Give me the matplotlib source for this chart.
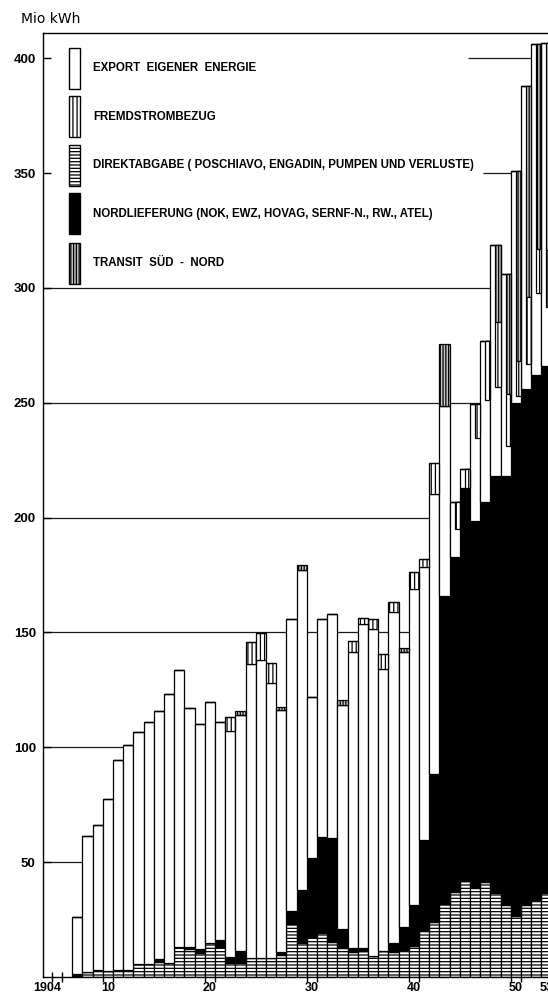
import numpy as np
import matplotlib.pyplot as plt
from matplotlib.patches import Rectangle

plt.rcParams['font.family'] = ['Liberation Sans', 'DejaVu Sans']
plt.rcParams['hatch.linewidth'] = 0.9

# Jahreswerte in Mio kWh
years = list(range(1907, 1954))
direkt = [0.5, 2, 3, 2.5, 3, 3, 5.7, 5.7, 6.7, 6, 13, 12, 10.6, 15, 13.2, 6.2, 6.2, 8.4, 8.4, 8.4,
          9.6, 23.1, 14.9, 17.3, 19.3, 15.4, 12.5, 11, 11.2, 9.1, 11.5, 11, 11.8, 13.5, 20.5, 24.1,
          32, 37, 41.8, 38.6, 41.5, 36.7, 31.4, 26.6, 31.4, 33.5, 36.5]
nord = [0.8, 0, 0, 0, 0, 0, 0, 0, 1, 0, 0, 1, 1.5, 0, 2.8, 2.5, 5.1, 0, 0, 0,
        1.4, 5.8, 23, 34.4, 41.8, 45, 8.3, 1.5, 1.3, 0, 0, 3.7, 10.1, 17.9, 39.2, 64.3,
        134, 146, 171.2, 160, 165.5, 181.3, 186.6, 223.4, 224.6, 228.5, 229.5]
export = [24.7, 59.4, 63, 75.1, 91.4, 98.2, 101, 105.3, 108.3, 117.4, 120.7, 104, 98.2, 104.9, 95,
          98.4, 102.8, 127.8, 129.5, 119.8, 105.1, 126.9, 139.2, 70.3, 94.9, 97.8, 97.7, 129.2,
          141.1, 142.3, 122.5, 144, 119.8, 137.4, 119, 121.8, 82.7, 24, 8, 51, 70, 100.5, 88,
          101, 132, 144, 140.6]
fremd = [0, 0, 0, 0, 0, 0, 0, 0, 0, 0, 0, 0, 0, 0, 0, 6.3, 0, 9.8, 11.8, 8.3,
         0, 0, 0, 0, 0, 0, 0, 4.6, 2.9, 4.4, 6.5, 4.6, 0, 7.6, 3.5, 13.8,
         0, 12, 8, 15, 26, 28, 23, 15, 29, 19, 25]
transit = [0, 0, 0, 0, 0, 0, 0, 0, 0, 0, 0, 0, 0, 0, 0, 0, 1.5, 0, 0, 0,
           1.6, 0, 2.3, 0, 0, 0, 2, 0, 0, 0, 0, 0, 1.7, 0, 0, 0,
           26.9, 0, 0, 0, 0, 33.5, 52, 83, 92, 89, 90]

tick_years = [1904, 1910, 1920, 1930, 1940, 1950, 1953]
tick_labels = ['1904', '10', '20', '30', '40', '50', '53']

legend_labels = [
    'EXPORT  EIGENER  ENERGIE',
    'FREMDSTROMBEZUG',
    'DIREKTABGABE ( POSCHIAVO, ENGADIN, PUMPEN UND VERLUSTE)',
    'NORDLIEFERUNG (NOK, EWZ, HOVAG, SERNF-N., RW., ATEL)',
    'TRANSIT  SÜD  -  NORD',
]

# ab diesem Jahr werden Fremdstrom und Transit als schmaler Streifen gezeichnet
SPLIT_YEAR = 1944

styles = {
    'export': dict(facecolor='white', hatch=None),
    'fremd': dict(facecolor='white', hatch='||||'),
    'direkt': dict(facecolor='white', hatch='-----'),
    'nord': dict(facecolor='black', hatch=None),
    'transit': dict(facecolor='#c4c4c4', hatch='||||||'),
}

yr = np.array(years)
d = np.array(direkt)
n = np.array(nord)
e = np.array(export)
f = np.array(fremd)
t = np.array(transit)
top = d + n + e
stacked = yr < SPLIT_YEAR

W, H = 548, 998
fig = plt.figure(figsize=(W / 100, H / 100), dpi=100)
ax = fig.add_axes([42.7 / W, 21 / H, (W - 42.7) / W, (977 - 33) / H])

xmin, xmax = 1903.6, 1953.15
for v in [50, 100, 150, 200, 250, 300]:
    ax.axhline(v, color='#1a1a1a', lw=0.9, zorder=1)
ax.hlines(350, 1946.8, xmax, color='#1a1a1a', lw=0.9, zorder=1)
ax.hlines(400, 1945.3, xmax, color='#1a1a1a', lw=0.9, zorder=1)

bar_kw = dict(width=1.0, edgecolor='black', linewidth=0.9, zorder=2)
ax.bar(yr, d, **styles['direkt'], **bar_kw)
ax.bar(yr, n, bottom=d, **styles['nord'], **bar_kw)
ax.bar(yr, e, bottom=d + n, **styles['export'], **bar_kw)
fs = np.where(stacked, f, 0)
ts = np.where(stacked, t, 0)
ax.bar(yr, fs, bottom=top, **styles['fremd'], **bar_kw)
ax.bar(yr, ts, bottom=top + fs, **styles['transit'], **bar_kw)

# spaete Jahre: Streifen auf der rechten Haelfte, von oben nach unten
strip_kw = dict(width=0.5, align='edge', edgecolor='black', linewidth=0.9, zorder=3)
late = ~stacked
ax.bar(yr[late], t[late], bottom=top[late] - t[late], **styles['transit'], **strip_kw)
ax.bar(yr[late], f[late], bottom=top[late] - t[late] - f[late], **styles['fremd'], **strip_kw)

ax.set_xlim(xmin, xmax)
ax.set_ylim(0, 411)
ax.spines['right'].set_visible(False)
for s in ['left', 'top', 'bottom']:
    ax.spines[s].set_linewidth(1.0)

ax.set_yticks([50, 100, 150, 200, 250, 300, 350, 400])
ax.tick_params(axis='y', direction='in', length=6, width=1, pad=5, labelsize=9.5)
for lab in ax.get_yticklabels():
    lab.set_fontweight('bold')
ax.set_xticks(tick_years)
ax.set_xticklabels(tick_labels, fontweight='bold')
ax.set_xticks([1904.5, 1905.5, 1909.5, 1910.5, 1919.5, 1920.5, 1929.5, 1930.5,
               1939.5, 1940.5, 1949.5, 1950.5], minor=True)
ax.tick_params(axis='x', which='major', length=0, pad=3.5, labelsize=9)
ax.tick_params(axis='x', which='minor', direction='inout', length=7, width=1)

fig.text(21 / W, 1 - 19 / H, 'Mio kWh', fontsize=10, va='center', ha='left',
         family='DejaVu Sans')

# Legende
sw_left, sw_w, sw_h = 69 / W, 11 / W, 41 / H
centers = [68, 116.5, 165, 213.5, 263]
for key, label, cy in zip(['export', 'fremd', 'direkt', 'nord', 'transit'], legend_labels, centers):
    y0 = 1 - cy / H - sw_h / 2
    fig.add_artist(Rectangle((sw_left, y0), sw_w, sw_h, transform=fig.transFigure,
                             edgecolor='black', linewidth=1.0, **styles[key]))
    fig.text(93 / W, 1 - cy / H, label, fontsize=8.3, fontweight='bold', va='center', ha='left')

fig.savefig('out.png', dpi=100, facecolor='white')
